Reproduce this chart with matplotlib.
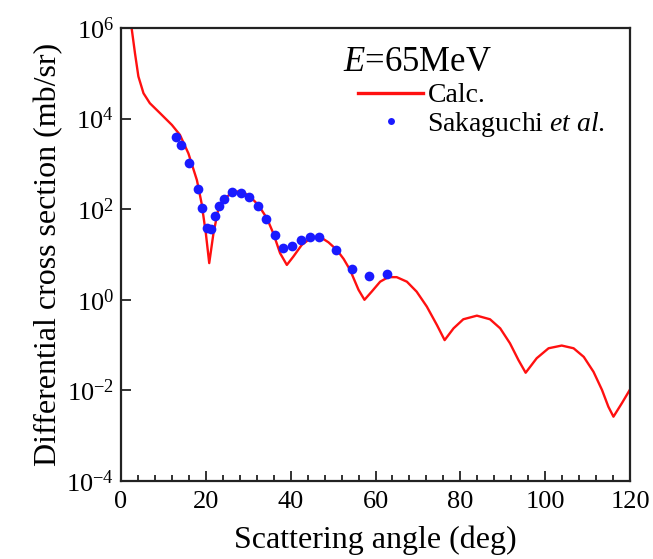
import matplotlib
matplotlib.use("Agg")
import matplotlib.pyplot as plt
from matplotlib.lines import Line2D
from matplotlib.ticker import MultipleLocator, FixedLocator
import numpy as np

plt.rcParams['font.family'] = ['Liberation Serif', 'DejaVu Serif']
plt.rcParams['mathtext.fontset'] = 'custom'
plt.rcParams['mathtext.rm'] = 'Liberation Serif'
plt.rcParams['mathtext.it'] = 'Liberation Serif:italic'

# Calc. curve (angle in deg, log10 of cross section)
calc_deg = [2.0, 2.5, 3.3, 4.1, 5.3, 6.8, 9.2, 12.0, 13.9, 15.9, 17.9, 19.0,
            20.0, 20.8, 21.8, 22.9, 24.5, 26.5, 28.5, 30.4, 32.4, 34.4, 35.9,
            37.5, 39.1, 40.6, 42.6, 45.0, 46.9, 48.9, 50.9, 52.5, 54.0, 56.0,
            57.4, 59.1, 61.1, 63.0, 65.0, 67.4, 69.7, 72.1, 74.5, 76.3, 78.4,
            80.7, 83.9, 87.0, 89.4, 91.7, 93.7, 95.4, 98.0, 100.8, 103.9,
            106.7, 109.1, 111.4, 113.4, 114.9, 116.1, 118.1, 120.0]
calc_log = [6.4, 6.0, 5.44, 4.93, 4.56, 4.34, 4.12, 3.86, 3.64, 3.23, 2.64, 2.13,
            1.47, 0.81, 1.47, 1.98, 2.24, 2.39, 2.39, 2.28, 2.09, 1.80, 1.47,
            1.03, 0.77, 0.95, 1.21, 1.38, 1.39, 1.27, 1.10, 0.90, 0.66, 0.22,
            0.0, 0.18, 0.40, 0.50, 0.50, 0.40, 0.18, -0.15, -0.56, -0.89, -0.63,
            -0.43, -0.35, -0.43, -0.63, -0.96, -1.33, -1.61, -1.29, -1.07, -1.01,
            -1.07, -1.26, -1.59, -1.99, -2.36, -2.58, -2.28, -1.98]

# Sakaguchi et al. data
exp_deg = [13.0, 14.1, 16.0, 18.1, 19.2, 20.3, 21.3, 22.2, 23.2, 24.2, 26.1,
           28.2, 30.1, 32.2, 34.3, 36.3, 38.1, 40.3, 42.5, 44.5, 46.6, 50.6,
           54.5, 58.4, 62.7]
exp_log = [3.59, 3.42, 3.02, 2.44, 2.02, 1.58, 1.57, 1.86, 2.07, 2.22, 2.37,
           2.36, 2.27, 2.08, 1.78, 1.43, 1.15, 1.19, 1.32, 1.39, 1.38, 1.10,
           0.67, 0.52, 0.57]

W, H = 653, 559
fig = plt.figure(figsize=(W / 100, H / 100), dpi=100)
ax = fig.add_axes([121 / W, 1 - 481 / H, 509 / W, 453 / H])

ax.plot(calc_deg, 10 ** np.array(calc_log), color='#ff1010', lw=1.7, zorder=2)
ax.plot(exp_deg, 10 ** np.array(exp_log), 'o', color='#1a1aff', ms=7,
        mec='none', zorder=3)

ax.set_yscale('log')
ax.set_xlim(0, 120)
ax.set_ylim(1e-4, 1e6)

ax.xaxis.set_major_locator(MultipleLocator(20))
ax.xaxis.set_minor_locator(MultipleLocator(4))
ax.yaxis.set_major_locator(FixedLocator([10.0 ** k for k in range(-4, 7, 2)]))
ax.yaxis.set_minor_locator(FixedLocator([]))
ax.set_yticklabels([r'$\mathregular{10^{%d}}$' % k for k in range(-4, 7, 2)])

ax.tick_params(which='both', direction='in', top=False, right=False,
               labelsize=19, color='#222222', width=1.3)
ax.tick_params(which='major', length=7, pad=5)
ax.tick_params(axis='x', which='major', pad=7)
ax.tick_params(which='minor', length=4)
for s in ax.spines.values():
    s.set_linewidth(1.6)
    s.set_color('#222222')

ax.set_xlabel('Scattering angle (deg)', fontsize=23, labelpad=9)
ax.set_ylabel('Differential cross section (mb/sr)', fontsize=23, labelpad=2)

fig.text(343 / W, 1 - 62 / H, r'$\mathit{E}$=65MeV', fontsize=25,
         ha='left', va='center')
handles = [Line2D([], [], color='#ff1010', lw=2.4),
           Line2D([], [], ls='none', marker='o', color='#1a1aff', ms=5, mec='none')]
ax.legend(handles, ['Calc.', r'Sakaguchi $\mathit{et\ al.}$'],
          loc='upper left', bbox_to_anchor=(358 / W, 1 - 83 / H),
          bbox_transform=fig.transFigure, frameon=False, fontsize=20,
          handlelength=2.35, handletextpad=0.15, labelspacing=0.05,
          borderpad=0, borderaxespad=0, numpoints=1)

fig.savefig('out.png', dpi=100)
